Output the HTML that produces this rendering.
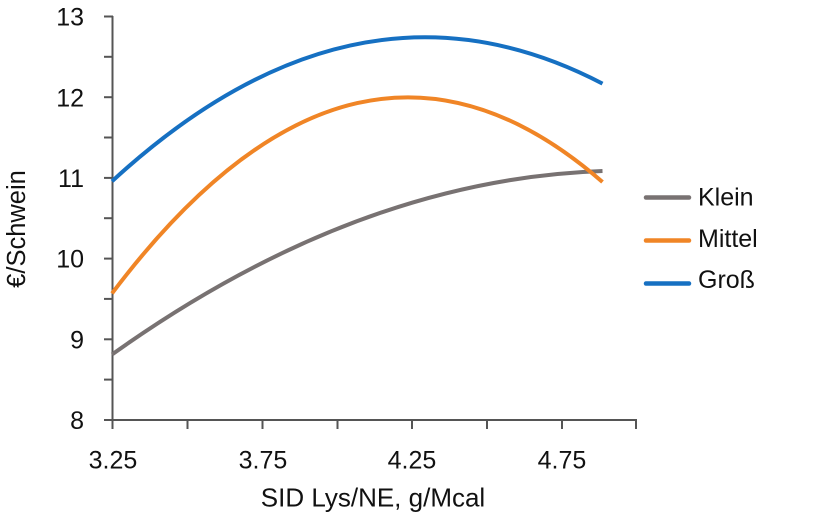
<!DOCTYPE html>
<html>
<head>
<meta charset="utf-8">
<style>
html,body{margin:0;padding:0;background:#fff;}
svg{display:block;}
text{font-family:"Liberation Sans",sans-serif;fill:#111;}
</style>
</head>
<body>
<svg width="820" height="520" viewBox="0 0 820 520" xmlns="http://www.w3.org/2000/svg">
<rect width="820" height="520" fill="#fff"/>
<!-- axes -->
<g stroke="#555" stroke-width="2" fill="none">
<line x1="112.5" y1="16" x2="112.5" y2="421"/>
<line x1="112" y1="420" x2="637" y2="420"/>
<!-- y ticks -->
<line x1="104" y1="16.5" x2="113" y2="16.5"/>
<line x1="104" y1="56.8" x2="113" y2="56.8"/>
<line x1="104" y1="97.2" x2="113" y2="97.2"/>
<line x1="104" y1="137.5" x2="113" y2="137.5"/>
<line x1="104" y1="177.9" x2="113" y2="177.9"/>
<line x1="104" y1="218.2" x2="113" y2="218.2"/>
<line x1="104" y1="258.6" x2="113" y2="258.6"/>
<line x1="104" y1="298.9" x2="113" y2="298.9"/>
<line x1="104" y1="339.3" x2="113" y2="339.3"/>
<line x1="104" y1="379.6" x2="113" y2="379.6"/>
<line x1="104" y1="420" x2="113" y2="420"/>
<!-- x ticks -->
<line x1="112.5" y1="420" x2="112.5" y2="429"/>
<line x1="187.5" y1="420" x2="187.5" y2="429"/>
<line x1="262.5" y1="420" x2="262.5" y2="429"/>
<line x1="337.5" y1="420" x2="337.5" y2="429"/>
<line x1="412" y1="420" x2="412" y2="429"/>
<line x1="487" y1="420" x2="487" y2="429"/>
<line x1="562" y1="420" x2="562" y2="429"/>
<line x1="636" y1="420" x2="636" y2="429"/>
</g>
<!-- y labels -->
<g font-size="25" text-anchor="end">
<text x="84" y="25.5">13</text>
<text x="84" y="106.5">12</text>
<text x="84" y="187">11</text>
<text x="84" y="267.5">10</text>
<text x="84" y="348.5">9</text>
<text x="84" y="429">8</text>
</g>
<!-- x labels -->
<g font-size="25" text-anchor="middle">
<text x="113" y="468.5">3.25</text>
<text x="263" y="468.5">3.75</text>
<text x="412" y="468.5">4.25</text>
<text x="562" y="468.5">4.75</text>
</g>
<text x="373" y="506.5" font-size="26" text-anchor="middle">SID Lys/NE, g/Mcal</text>
<text x="0" y="0" font-size="25.5" text-anchor="middle" transform="translate(25,229) rotate(-90)">€/Schwein</text>
<!-- series -->
<g fill="none" stroke-width="4" stroke-linecap="butt">
<path d="M112,354.5 Q357.25,179.5 602.5,171" stroke="#787272"/>
<path d="M112,293.4 Q357.25,-31.5 602.5,182" stroke="#F08526"/>
<path d="M112,181.3 Q357.25,-44.4 602.5,83.6" stroke="#1670C2"/>
</g>
<!-- legend -->
<g stroke-width="4.5" stroke-linecap="round">
<line x1="646" y1="197.5" x2="689" y2="197.5" stroke="#787272"/>
<line x1="646" y1="240.5" x2="689" y2="240.5" stroke="#F08526"/>
<line x1="646" y1="283.5" x2="689" y2="283.5" stroke="#1670C2"/>
</g>
<g font-size="25">
<text x="698" y="205.5">Klein</text>
<text x="698" y="247">Mittel</text>
<text x="698" y="288">Groß</text>
</g>
</svg>
</body>
</html>
